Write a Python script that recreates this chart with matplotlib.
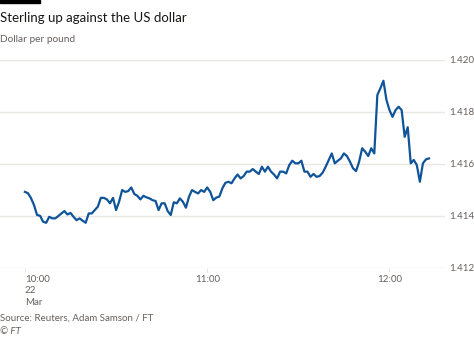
import matplotlib.pyplot as plt
import matplotlib.dates as mdates
import pandas as pd

# GBP/USD, one reading per minute from 10:00 on 22 March 2018
start = "2018-03-22 10:00"
rate = [
    1.41492, 1.41487, 1.41468, 1.41441, 1.41403, 1.41400, 1.41377, 1.41373, 1.41396, 1.41390,
    1.41390, 1.41399, 1.41409, 1.41418, 1.41405, 1.41411, 1.41396, 1.41383, 1.41390, 1.41381,
    1.41373, 1.41409, 1.41409, 1.41422, 1.41435, 1.41469, 1.41469, 1.41463, 1.41448, 1.41469,
    1.41422, 1.41454, 1.41499, 1.41492, 1.41495, 1.41509, 1.41484, 1.41477, 1.41463, 1.41477,
    1.41471, 1.41467, 1.41460, 1.41457, 1.41422, 1.41448, 1.41448, 1.41418, 1.41403, 1.41452,
    1.41448, 1.41467, 1.41454, 1.41431, 1.41473, 1.41499, 1.41492, 1.41486, 1.41499, 1.41492,
    1.41509, 1.41492, 1.41460, 1.41470, 1.41474, 1.41506, 1.41527, 1.41531, 1.41525, 1.41544,
    1.41559, 1.41544, 1.41553, 1.41570, 1.41570, 1.41580, 1.41570, 1.41561, 1.41589, 1.41570,
    1.41589, 1.41570, 1.41559, 1.41544, 1.41570, 1.41570, 1.41563, 1.41595, 1.41612, 1.41602,
    1.41602, 1.41612, 1.41570, 1.41570, 1.41550, 1.41561, 1.41550, 1.41553, 1.41566, 1.41589,
    1.41615, 1.41640, 1.41602, 1.41612, 1.41621, 1.41640, 1.41630, 1.41608, 1.41583, 1.41572,
    1.41608, 1.41660, 1.41647, 1.41630, 1.41660, 1.41640, 1.41865, 1.41891, 1.41920, 1.41846,
    1.41807, 1.41781, 1.41807, 1.41820, 1.41807, 1.41704, 1.41741, 1.41602, 1.41615, 1.41595,
    1.41531, 1.41602, 1.41617, 1.41621,
]
times = pd.date_range(start, periods=len(rate), freq="min")

y_ticks = [1.412, 1.414, 1.416, 1.418, 1.420]
x_ticks = ["2018-03-22 10:00", "2018-03-22 11:00", "2018-03-22 12:00"]
x_labels = ["10:00\n22\nMar", "11:00", "12:00"]

plt.rcParams["font.family"] = ["Lato", "DejaVu Sans"]
grey = "#66605c"
grid = "#e9e6e3"

fig = plt.figure(figsize=(4.74, 3.38), dpi=100)
fig.patch.set_facecolor("white")
ax = fig.add_axes([0.0, 0.208, 0.939, 0.6145])

ax.plot(times, rate, color="#0f5499", linewidth=1.6, solid_joinstyle="round")

ax.set_ylim(1.412, 1.420)
ax.set_yticks(y_ticks)
ax.set_yticklabels(["%.3f" % v for v in y_ticks])
ax.yaxis.tick_right()
ax.tick_params(axis="y", length=0, pad=3, labelsize=7, labelcolor=grey)
ax.grid(axis="y", color=grid, linewidth=1)

t0 = pd.Timestamp(start)
ax.set_xlim(t0 - pd.Timedelta(minutes=8.2), t0 + pd.Timedelta(minutes=138.3))
ax.set_xticks(pd.to_datetime(x_ticks))
ax.set_xticklabels(x_labels, linespacing=1.35)
ax.tick_params(axis="x", length=3, width=0.8, color=grid, pad=2,
               labelsize=7, labelcolor=grey)
ax.get_xticklabels()[0].set_ha("left")

for s in ax.spines.values():
    s.set_visible(False)

fig.add_artist(plt.Rectangle((0, 1 - 3 / 338), 40 / 474, 3 / 338,
                             transform=fig.transFigure, color="black"))
fig.text(0, 1 - 18 / 338, "Sterling up against the US dollar", fontsize=9.5,
         color="#1a1817", va="center", ha="left")
fig.text(0, 1 - 39 / 338, "Dollar per pound", fontsize=7.3, color=grey,
         va="center", ha="left")
fig.text(0, 1 - 318 / 338, "Source: Reuters, Adam Samson / FT", fontsize=7,
         color=grey, va="center", ha="left")
fig.text(0, 1 - 332 / 338, "© FT", fontsize=7, color=grey, style="italic",
         va="center", ha="left")

fig.savefig("out.png", dpi=100, facecolor="white")
